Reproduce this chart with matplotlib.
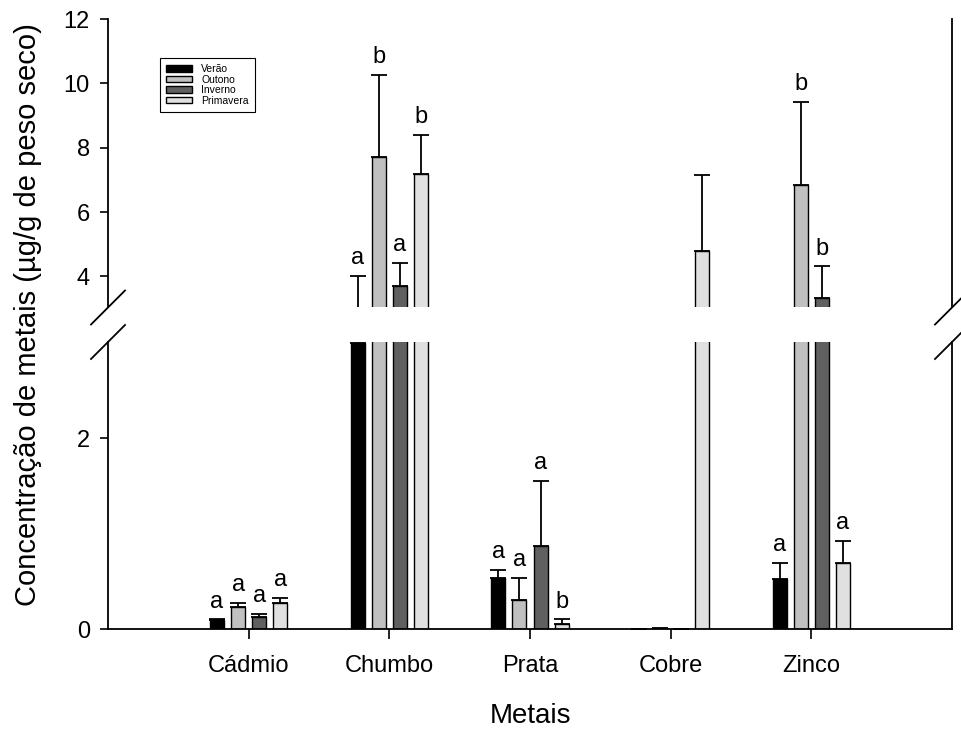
import numpy as np
import matplotlib
matplotlib.use('Agg')
import matplotlib.pyplot as plt
from matplotlib.lines import Line2D

plt.rcParams['font.family'] = ['Liberation Sans', 'DejaVu Sans']

metais = ['Cádmio', 'Chumbo', 'Prata', 'Cobre', 'Zinco']
estacoes = ['Verão', 'Outono', 'Inverno', 'Primavera']
cores = ['#000000', '#c0c0c0', '#606060', '#e0e0e0']

# mean values (µg/g) per season, order = metais
verao = [0.09, 3.00, 0.53, 0.0, 0.52]
outono = [0.23, 7.72, 0.30, 0.01, 6.85]
inverno = [0.13, 3.70, 0.87, 0.0, 3.33]
primavera = [0.27, 7.19, 0.05, 4.78, 0.69]

# upper error (only the + side is drawn)
verao_err = [0.01, 1.00, 0.09, np.nan, 0.17]
outono_err = [0.04, 2.54, 0.24, np.nan, 2.58]
inverno_err = [0.03, 0.73, 0.68, np.nan, 0.98]
primavera_err = [0.06, 1.21, 0.05, 2.38, 0.23]

# significance letters
verao_let = ['a', 'a', 'a', '', 'a']
outono_let = ['a', 'b', 'a', '', 'b']
inverno_let = ['a', 'a', 'a', '', 'b']
primavera_let = ['a', 'b', 'b', '', 'a']

medias = [verao, outono, inverno, primavera]
erros = [verao_err, outono_err, inverno_err, primavera_err]
letras = [verao_let, outono_let, inverno_let, primavera_let]

W, H = 961, 736
fig = plt.figure(figsize=(W / 100, H / 100), dpi=100)

left = 108 / W
width = (952 - 108) / W
low_bot, low_top = 629, 342
up_bot, up_top = 307, 19
ax_low = fig.add_axes([left, (H - low_bot) / H, width, (low_bot - low_top) / H])
ax_up = fig.add_axes([left, (H - up_bot) / H, width, (up_bot - up_top) / H])

ax_low.set_ylim(0, 3.01)
ax_up.set_ylim(3.05, 12)

x = np.arange(1, len(metais) + 1)
offsets = [-0.225, -0.075, 0.075, 0.225]
bw = 0.1

for ax in (ax_low, ax_up):
    for i in range(4):
        xi = x + offsets[i]
        ax.bar(xi, medias[i], width=bw, color=cores[i], edgecolor='black',
               linewidth=1.0, label=estacoes[i], zorder=2)
        err = np.array(erros[i])
        ax.errorbar(xi, medias[i], yerr=[np.zeros_like(err), err], fmt='none',
                    ecolor='black', elinewidth=1.3, capsize=5.8, capthick=1.3,
                    zorder=3)
    ax.set_xlim(0, 6)
    ax.spines['top'].set_visible(False)
    ax.tick_params(axis='y', direction='out', length=6, width=1.2,
                   labelsize=17, pad=7)
    for s in ('left', 'right', 'bottom'):
        ax.spines[s].set_linewidth(1.3)

ax_up.spines['bottom'].set_visible(False)
ax_up.set_xticks([])
ax_up.set_yticks([4, 6, 8, 10, 12])
ax_low.set_yticks([0, 2])
ax_low.set_xticks(x)
ax_low.set_xticklabels(metais, fontsize=17)
ax_low.tick_params(axis='x', direction='out', length=7, width=1.2, pad=12)

# letters above the error caps
for i in range(4):
    for j in range(len(metais)):
        if not letras[i][j]:
            continue
        top = medias[i][j] + (0 if np.isnan(erros[i][j]) else erros[i][j])
        ax = ax_up if top > 3.05 else ax_low
        ax.annotate(letras[i][j], (x[j] + offsets[i], top), xytext=(0, 5),
                    textcoords='offset points', ha='center', va='bottom',
                    fontsize=17)

# axis break marks
d = 17
for xp in (108, 952):
    for yp in (307.5, 342):
        fig.add_artist(Line2D([(xp - d) / W, (xp + d) / W],
                              [(H - yp - d) / H, (H - yp + d) / H],
                              color='black', lw=1.3))

fig.text(530 / W, (H - 716) / H, 'Metais', fontsize=20, ha='center', va='center')
fig.text(28 / W, (H - 315) / H, 'Concentração de metais (µg/g de peso seco)',
         fontsize=21, rotation=90, ha='center', va='center')

handles, labels = ax_up.get_legend_handles_labels()
leg = ax_up.legend(handles[:4], labels[:4], loc='upper left',
                   bbox_to_anchor=((160 - 108) / (952 - 108), (H - 58 - (H - up_bot)) / (up_bot - up_top)),
                   borderaxespad=0, fontsize=7.5, frameon=True, fancybox=False,
                   edgecolor='black', framealpha=1, handlelength=2.5,
                   handleheight=0.6, labelspacing=0.05, handletextpad=0.85,
                   borderpad=0.6)
leg.get_frame().set_linewidth(0.8)

fig.savefig('out.png', dpi=100)
